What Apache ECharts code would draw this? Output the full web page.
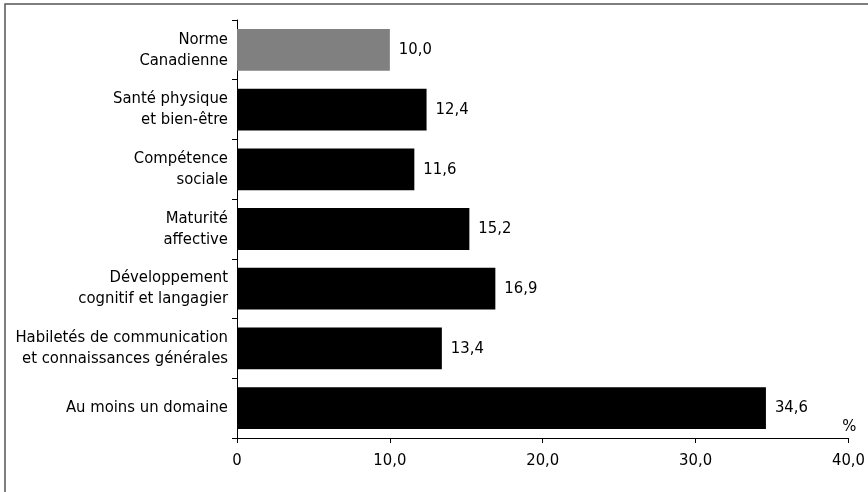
<!DOCTYPE html>
<html>
<head>
<meta charset="utf-8">
<script src="https://cdn.jsdelivr.net/npm/echarts@6/dist/echarts.min.js"></script>
<style>
  html, body { margin: 0; padding: 0; background: #fff; }
  #container { width: 868px; height: 492px; }
</style>
</head>
<body>
<div id="container"></div>
<script>
// catégories, du haut vers le bas (axe catégoriel inversé plus bas)
var categories = [
    'Norme\nCanadienne',
    'Santé physique\net bien-être',
    'Compétence\nsociale',
    'Maturité\naffective',
    'Développement\ncognitif et langagier',
    'Habiletés de communication\net connaissances générales',
    'Au moins un domaine'
];
var values = [10.0, 12.4, 11.6, 15.2, 16.9, 13.4, 34.6];
var barColors = ['#808080', '#000', '#000', '#000', '#000', '#000', '#000'];
var xTicks = [0, 10, 20, 30, 40];

var fontFam = "'Liberation Sans Narrow', 'DejaVu Sans Condensed', sans-serif";

function fmt(v) {
    if (v === 0) return '0';
    return v.toFixed(1).replace('.', ',');
}

var myChart = echarts.init(document.getElementById('container'));
var data = [];
for (var i = 0; i < values.length; i++) {
    data.push({value: values[i], itemStyle: {color: barColors[i]}});
}

var option = {
    animation: false,
    textStyle: {fontFamily: fontFam},
    graphic: [{
        type: 'rect',
        shape: {x: 5, y: 4, width: 900, height: 520},
        style: {fill: 'none', stroke: '#555', lineWidth: 1.5},
        silent: true
    }],
    grid: {left: 237, right: 15, top: 20, bottom: 54},
    xAxis: {
        type: 'value',
        min: xTicks[0],
        max: xTicks[xTicks.length - 1],
        interval: 10,
        name: '%',
        nameLocation: 'end',
        nameGap: 8,
        nameTextStyle: {color: '#000', fontSize: 16.5, fontFamily: fontFam, align: 'right', verticalAlign: 'bottom', padding: [0, 0, 3, 0]},
        axisLine: {show: true, lineStyle: {color: '#000', width: 1}},
        axisTick: {show: true, length: 5, lineStyle: {color: '#000'}},
        axisLabel: {color: '#000', fontSize: 16.5, margin: 14, formatter: fmt},
        splitLine: {show: false}
    },
    yAxis: {
        type: 'category',
        inverse: true,
        data: categories,
        axisLine: {show: true, lineStyle: {color: '#000', width: 1}},
        axisTick: {show: true, length: 5, lineStyle: {color: '#000'}},
        axisLabel: {color: '#000', fontSize: 16.5, lineHeight: 21, margin: 9, align: 'right'}
    },
    series: [{
        type: 'bar',
        barWidth: '70%',
        data: data,
        label: {
            show: true,
            position: 'right',
            distance: 9,
            color: '#000',
            fontSize: 16.5,
            formatter: function (p) { return fmt(p.value); }
        }
    }]
};
myChart.setOption(option);
</script>
</body>
</html>
